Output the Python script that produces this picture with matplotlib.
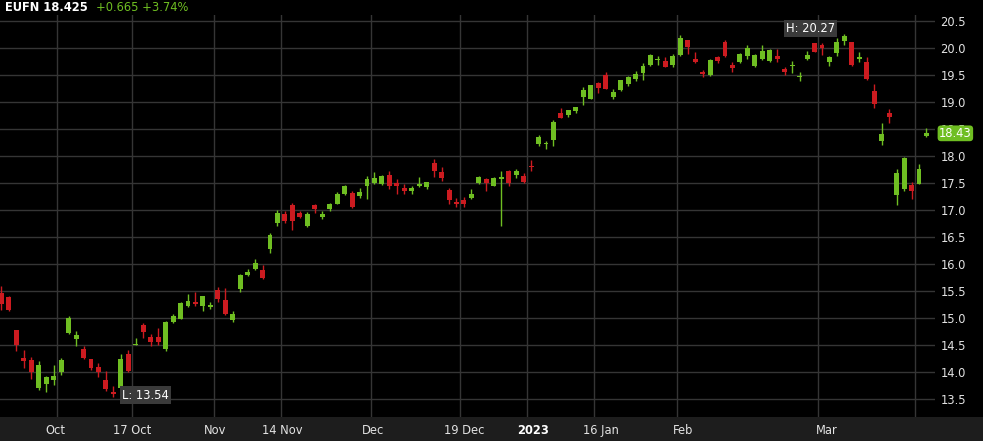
import matplotlib.pyplot as plt
import numpy as np
from matplotlib.patches import Rectangle
from matplotlib.transforms import blended_transform_factory

# daily candles, 21 Sep 2022 .. 21 Mar 2023 (trading days)
opens = [15.46, 15.40, 14.78, 14.27, 14.23, 13.71, 13.79, 13.86, 14.00, 14.72,
         14.62, 14.43, 14.25, 14.10, 13.86, 13.63, 13.71, 14.34, 14.50, 14.87,
         14.65, 14.65, 14.43, 14.93, 14.99, 15.22, 15.30, 15.22, 15.21, 15.53,
         15.33, 14.96, 15.55, 15.80, 15.91, 15.89, 16.28, 16.77, 16.93, 17.10,
         16.94, 16.70, 17.09, 16.88, 17.02, 17.11, 17.31, 17.32, 17.27, 17.45,
         17.51, 17.49, 17.65, 17.51, 17.41, 17.36, 17.44, 17.43, 17.88, 17.70,
         17.38, 17.14, 17.19, 17.22, 17.50, 17.57, 17.45, 17.58, 17.72, 17.65,
         17.64, 17.82, 18.23, 18.22, 18.31, 18.81, 18.77, 18.83, 19.09, 19.06,
         19.36, 19.51, 19.10, 19.23, 19.34, 19.43, 19.54, 19.69, 19.78, 19.77,
         19.70, 19.88, 20.15, 19.81, 19.57, 19.51, 19.83, 20.12, 19.69, 19.75,
         19.86, 19.68, 19.80, 19.77, 19.86, 19.62, 19.67, 19.46, 19.80, 20.09,
         20.06, 19.75, 19.91, 20.14, 20.11, 19.80, 19.75, 19.20, 18.29, 18.81,
         17.28, 17.40, 17.46, 17.49, 18.38]
highs = [15.59, 15.41, 14.78, 14.42, 14.28, 14.20, 13.93, 14.14, 14.27, 15.04,
         14.76, 14.48, 14.25, 14.17, 14.02, 13.74, 14.34, 14.42, 14.64, 14.91,
         14.70, 14.82, 14.94, 15.08, 15.30, 15.44, 15.49, 15.42, 15.30, 15.57,
         15.56, 15.14, 15.81, 15.92, 16.10, 15.98, 16.57, 17.01, 16.98, 17.14,
         16.98, 16.96, 17.12, 16.99, 17.14, 17.33, 17.46, 17.35, 17.42, 17.64,
         17.71, 17.65, 17.72, 17.57, 17.49, 17.45, 17.61, 17.53, 17.95, 17.81,
         17.42, 17.22, 17.24, 17.40, 17.64, 17.59, 17.61, 17.72, 17.75, 17.77,
         17.69, 17.93, 18.40, 18.28, 18.67, 18.90, 18.86, 18.91, 19.29, 19.32,
         19.38, 19.56, 19.24, 19.41, 19.49, 19.58, 19.72, 19.89, 19.86, 19.83,
         19.90, 20.25, 20.15, 19.94, 19.60, 19.81, 19.85, 20.15, 19.74, 19.91,
         20.07, 19.89, 20.06, 19.99, 19.99, 19.66, 19.77, 19.57, 19.95, 20.10,
         20.09, 19.85, 20.20, 20.27, 20.12, 19.94, 19.83, 19.33, 18.61, 18.88,
         17.77, 17.98, 17.53, 17.85, 18.53]
lows = [15.16, 15.13, 14.39, 14.08, 13.88, 13.67, 13.64, 13.77, 13.94, 14.70,
        14.48, 14.24, 14.04, 13.91, 13.66, 13.54, 13.68, 14.01, 14.50, 14.63,
        14.48, 14.51, 14.39, 14.91, 14.98, 15.20, 15.23, 15.14, 15.17, 15.30,
        15.06, 14.93, 15.49, 15.78, 15.89, 15.73, 16.20, 16.70, 16.77, 16.63,
        16.85, 16.69, 16.95, 16.83, 16.99, 17.11, 17.28, 17.04, 17.23, 17.20,
        17.49, 17.46, 17.40, 17.30, 17.30, 17.31, 17.43, 17.39, 17.61, 17.55,
        17.12, 17.06, 17.06, 17.20, 17.49, 17.35, 17.44, 16.70, 17.45, 17.59,
        17.50, 17.72, 18.19, 18.14, 18.19, 18.70, 18.72, 18.80, 18.95, 19.06,
        19.17, 19.24, 19.06, 19.20, 19.31, 19.40, 19.41, 19.68, 19.69, 19.65,
        19.66, 19.85, 19.90, 19.72, 19.46, 19.49, 19.72, 19.83, 19.57, 19.72,
        19.80, 19.66, 19.79, 19.75, 19.75, 19.51, 19.55, 19.40, 19.78, 19.94,
        19.88, 19.68, 19.85, 20.07, 19.67, 19.75, 19.41, 18.90, 18.21, 18.61,
        17.10, 17.35, 17.21, 17.48, 18.35]
closes = [15.27, 15.16, 14.51, 14.20, 14.00, 14.14, 13.91, 13.93, 14.22, 15.00,
          14.68, 14.27, 14.08, 14.00, 13.69, 13.60, 14.25, 14.03, 14.52, 14.75,
          14.56, 14.56, 14.93, 15.04, 15.28, 15.31, 15.26, 15.41, 15.24, 15.35,
          15.07, 15.07, 15.80, 15.86, 16.03, 15.75, 16.54, 16.95, 16.80, 16.81,
          16.88, 16.93, 17.02, 16.93, 17.12, 17.30, 17.44, 17.06, 17.33, 17.58,
          17.60, 17.64, 17.45, 17.44, 17.35, 17.42, 17.49, 17.53, 17.72, 17.59,
          17.19, 17.12, 17.12, 17.30, 17.61, 17.50, 17.59, 17.61, 17.50, 17.73,
          17.52, 17.80, 18.36, 18.24, 18.64, 18.70, 18.86, 18.91, 19.22, 19.32,
          19.27, 19.24, 19.19, 19.41, 19.46, 19.52, 19.67, 19.88, 19.80, 19.66,
          19.86, 20.20, 20.03, 19.75, 19.52, 19.78, 19.77, 19.86, 19.64, 19.89,
          20.01, 19.88, 19.95, 19.97, 19.80, 19.56, 19.70, 19.49, 19.88, 19.94,
          20.01, 19.83, 20.12, 20.22, 19.70, 19.83, 19.43, 18.96, 18.41, 18.73,
          17.69, 17.96, 17.36, 17.76, 18.425]

# day index where each date grid line starts (Oct 3, Oct 17, Nov 1, ...)
grid_days = [8, 18, 29, 38, 50, 62, 71, 80, 91, 110, 123]
tick_labels = ['Oct', '17 Oct', 'Nov', '14 Nov', 'Dec', '19 Dec', '2023', '16 Jan', 'Feb', 'Mar']
label_pos = [7.25, 17.45, 28.6, 37.7, 49.8, 62.1, 71.3, 80.3, 91.35, 110.7]

ticker = 'EUFN'
last = 18.425
change = '+0.665'
pct = '+3.74%'

GREEN = '#6fbe22'
RED = '#cc1b20'
GRID = '#353535'
TXT = '#e2e2e2'

fig = plt.figure(figsize=(9.83, 4.41), dpi=100)
fig.patch.set_facecolor('black')
ax = fig.add_axes([0, 24 / 441, 935 / 983, (417 - 15) / 441])
ax.set_facecolor('black')
for s in ax.spines.values():
    s.set_visible(False)

o = np.array(opens)
h = np.array(highs)
l = np.array(lows)
c = np.array(closes)
x = np.arange(len(o))
up = c >= o
cols = np.where(up, GREEN, RED)

ax.vlines(x, l, h, colors=cols, lw=1, zorder=3)
body = np.maximum(np.abs(c - o), 0.025)
ax.bar(x, body, bottom=np.minimum(o, c), width=0.66, color=cols, lw=0, zorder=4)

ax.set_xlim(-0.2, 125.15)
ax.set_ylim(13.17, 20.617)
ax.set_yticks(np.arange(13.5, 20.51, 0.5))
ax.yaxis.tick_right()
ax.tick_params(axis='y', length=0, pad=4, labelcolor=TXT, labelsize=8.3)
ax.set_xticks(np.array(grid_days) - 0.5)
ax.tick_params(axis='x', length=0, labelbottom=False)
ax.grid(True, color=GRID, lw=1)
ax.set_axisbelow(True)

# bottom date band (drawn under the axes so the labels stay on top)
fig.patches.append(Rectangle((0, 0), 1, 24 / 441, transform=fig.transFigure,
                             fc='#1d1d1d', ec='none', zorder=-1))
trans = blended_transform_factory(ax.transData, fig.transFigure)
for lab, p in zip(tick_labels, label_pos):
    bold = lab == '2023'
    ax.text(p, 0.024, lab, transform=trans, ha='center', va='center',
            fontsize=8.3, color='white' if bold else TXT,
            fontweight='bold' if bold else 'normal', clip_on=False)

# header
fig.text(5 / 983, 1 - 7.5 / 441, f'{ticker} {last}', color='white', fontsize=8.3,
         fontweight='bold', va='center', ha='left')
fig.text(96 / 983, 1 - 7.5 / 441, f'{change} {pct}', color=GREEN, fontsize=8.3,
         va='center', ha='left')

# high / low markers
hi = int(np.argmax(h))
lo = int(np.argmin(l))
ax.annotate(f'H: {h[hi]:.2f}', xy=(hi, h[hi]), xytext=(-9, 5), textcoords='offset pixels',
            ha='right', va='center', color='white', fontsize=8.3, zorder=6,
            bbox=dict(boxstyle='square,pad=0.18', fc='#3a3a3a', ec='none'))
ax.annotate(f'L: {l[lo]:.2f}', xy=(lo, l[lo]), xytext=(9, 2), textcoords='offset pixels',
            ha='left', va='center', color='white', fontsize=8.3, zorder=6,
            bbox=dict(boxstyle='square,pad=0.18', fc='#3a3a3a', ec='none'))

# last price badge
ax.text(1.0 + 4 / 935, last, f'{last:.2f}', transform=blended_transform_factory(ax.transAxes, ax.transData),
        ha='left', va='center', color='white', fontsize=8.3, clip_on=False, zorder=7,
        bbox=dict(boxstyle='round,pad=0.12,rounding_size=0.3', fc=GREEN, ec='none'))

fig.savefig('out.png', dpi=100, facecolor='black')
